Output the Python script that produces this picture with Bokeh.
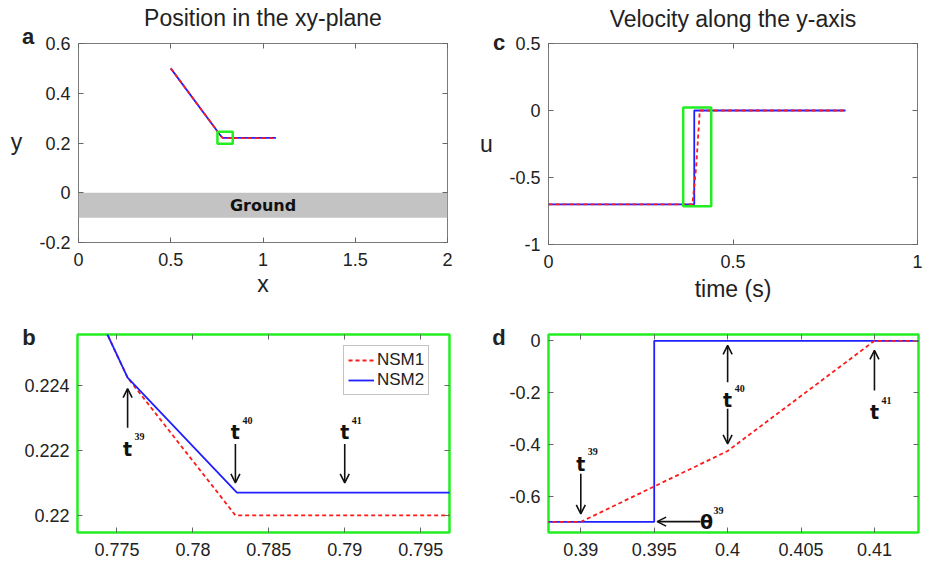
from bokeh.plotting import figure
from bokeh.layouts import column, row
from bokeh.models import (Range1d, FixedTicker, CustomJSTickFormatter, LinearAxis, Label,
                          Arrow, OpenHead, BoxAnnotation, Legend, LegendItem)
from bokeh.embed import file_html
from bokeh.resources import INLINE

# ---------------- data ----------------
pos_x_nsm1 = [0.5, 0.7757, 0.7828, 1.07]
pos_y_nsm1 = [0.5, 0.22424, 0.2200, 0.2200]
pos_x_nsm2 = [0.5, 0.7757, 0.7829, 1.07]
pos_y_nsm2 = [0.5, 0.22424, 0.2207, 0.2207]

time_nsm1 = [0.0, 0.39, 0.395, 0.40, 0.41, 0.805]
vel_nsm1 = [-0.70, -0.70, -0.563, -0.426, 0.0, 0.0]
time_nsm2 = [0.0, 0.395, 0.395, 0.805]
vel_nsm2 = [-0.70, -0.70, 0.0, 0.0]

ground_top = [0.0]
ground_bottom = [-0.1]
ground_left = [0.0]
ground_right = [2.0]

a_xticks = [0, 0.5, 1, 1.5, 2]
a_yticks = [-0.2, 0, 0.2, 0.4, 0.6]
b_xticks = [0.775, 0.78, 0.785, 0.79, 0.795]
b_yticks = [0.22, 0.222, 0.224]
c_xticks = [0, 0.5, 1]
c_yticks = [-1, -0.5, 0, 0.5]
d_xticks = [0.39, 0.395, 0.4, 0.405, 0.41]
d_yticks = [-0.6, -0.4, -0.2, 0]

series_names = ["NSM1", "NSM2"]

# ---------------- style ----------------
FONT = "Liberation Sans"
TXT = "#222222"
RED = "#ff1a1a"
BLUE = "#2020ff"
GREEN = "#22ee22"
LW = 1.8


def make_fig(fw, fh, bl, br, bt, bb, xr, yr, xticks, yticks, outline_color, outline_width):
    p = figure(frame_width=fw, frame_height=fh,
               min_border_left=bl, min_border_right=br, min_border_top=bt, min_border_bottom=bb,
               x_range=Range1d(*xr), y_range=Range1d(*yr),
               output_backend="svg", toolbar_location=None)
    p.grid.visible = False
    p.outline_line_color = outline_color
    p.outline_line_width = outline_width
    p.outline_line_alpha = 1
    p.background_fill_color = "white"
    p.border_fill_color = "white"
    fmt = CustomJSTickFormatter(code="return String(parseFloat(tick.toFixed(6)));")
    xax, yax = p.xaxis[0], p.yaxis[0]
    for ax, ticks, so in ((xax, xticks, 10), (yax, yticks, 8)):
        ax.ticker = FixedTicker(ticks=ticks)
        ax.formatter = fmt
        ax.major_tick_in = 5
        ax.major_tick_out = 0
        ax.minor_tick_line_color = None
        ax.axis_line_color = None
        ax.major_tick_line_color = "#666666"
        ax.major_label_text_font = FONT
        ax.major_label_text_font_size = "18px"
        ax.major_label_text_color = TXT
        ax.major_label_standoff = so
    for loc, ticks in (("right", yticks), ("above", xticks)):
        ax = LinearAxis(ticker=FixedTicker(ticks=ticks),
                        formatter=CustomJSTickFormatter(code="return '';"),
                        major_label_text_font_size="0px", major_label_standoff=0,
                        major_tick_in=5, major_tick_out=0, minor_tick_line_color=None,
                        axis_line_color=None, major_tick_line_color="#666666")
        p.add_layout(ax, loc)
    return p, xax, yax


def clabel(p, side, text, x, y, size, style="normal", align="center", baseline="alphabetic"):
    # label positioned in canvas pixels of its figure, kept in a side panel (not clipped)
    p.add_layout(Label(x=x, y=y, x_units="canvas", y_units="canvas", text=text,
                       text_font=FONT, text_font_size=size, text_font_style=style,
                       text_color=TXT, text_align=align, text_baseline=baseline), side)


def set_xlabel(ax, text, standoff):
    ax.axis_label = text
    ax.axis_label_text_font = FONT
    ax.axis_label_text_font_size = "23px"
    ax.axis_label_text_font_style = "normal"
    ax.axis_label_text_color = TXT
    ax.axis_label_standoff = standoff


def tlabel(p, x, y, sym, sup, sup_dx=7, sup_dy=12, lift=5):
    p.add_layout(Label(x=x, y=y, y_offset=lift, text=sym, text_align="center",
                       text_baseline="alphabetic",
                       text_font="DejaVu Sans", text_font_style="bold", text_font_size="19px",
                       text_color="#111111"))
    p.add_layout(Label(x=x, y=y, x_offset=sup_dx, y_offset=sup_dy + lift, text=sup,
                       text_align="left",
                       text_baseline="alphabetic", text_font="Liberation Serif",
                       text_font_style="bold", text_font_size="10px", text_color="#111111"))


def arrow(p, x0, y0, x1, y1):
    p.add_layout(Arrow(end=OpenHead(size=9, line_width=1.6, line_color="#111111"),
                       x_start=x0, y_start=y0, x_end=x1, y_end=y1,
                       line_width=1.6, line_color="#111111"))


# ---------------- panel a ----------------
pa, pa_x, pa_y = make_fig(369, 199, 78, 23, 42, 64, (0, 2), (-0.2, 0.6), a_xticks, a_yticks, "#7a7a7a", 1)
pa.quad(left=ground_left, right=ground_right, top=ground_top, bottom=ground_bottom,
        fill_color="#c3c3c3", line_color=None)
pa.add_layout(Label(x=1.0, y=-0.05, text="Ground", text_align="center", text_baseline="middle",
                    text_font="DejaVu Sans", text_font_style="bold", text_font_size="16px",
                    text_color="#111111"))
pa.line(pos_x_nsm2, pos_y_nsm2, line_color=BLUE, line_width=LW)
pa.line(pos_x_nsm1, pos_y_nsm1, line_color=RED, line_width=LW, line_dash="4 3")
pa.add_layout(BoxAnnotation(left=0.753, right=0.836, bottom=0.197, top=0.245,
                            fill_alpha=0, line_color=GREEN, line_width=2.5, line_alpha=1))
set_xlabel(pa_x, "x", 2)
clabel(pa, "above", "Position in the xy-plane", 262.5, 17, "23px")
clabel(pa, "left", "a", 27.5, 36, "22px", "bold")
clabel(pa, "left", "y", 16, 141, "23px")

# ---------------- panel c ----------------
pc, pc_x, pc_y = make_fig(369, 201, 78, 12, 43, 61, (0, 1), (-1, 0.5), c_xticks, c_yticks, "#7a7a7a", 1)
pc.line(time_nsm2, vel_nsm2, line_color=BLUE, line_width=LW)
pc.line(time_nsm1, vel_nsm1, line_color=RED, line_width=LW, line_dash="4 3")
pc.add_layout(BoxAnnotation(left=0.365, right=0.441, bottom=-0.715, top=0.022,
                            fill_alpha=0, line_color=GREEN, line_width=2.5, line_alpha=1))
set_xlabel(pc_x, "time (s)", 5)
clabel(pc, "above", "Velocity along the y-axis", 262.5, 18, "23px")
clabel(pc, "left", "c", 28.5, 42, "22px", "bold")
clabel(pc, "left", "u", 16, 143, "23px")

# ---------------- panel b ----------------
pb, pb_x, pb_y = make_fig(372, 198, 77, 21, 29, 29, (0.7724, 0.7969), (0.21947, 0.22557), b_xticks, b_yticks, GREEN, 2.5)
rb1 = pb.line(pos_x_nsm1, pos_y_nsm1, line_color=RED, line_width=LW, line_dash="4 3")
rb2 = pb.line(pos_x_nsm2, pos_y_nsm2, line_color=BLUE, line_width=LW)
leg = Legend(items=[LegendItem(label=series_names[0], renderers=[rb1]),
                    LegendItem(label=series_names[1], renderers=[rb2])],
             location=(266, 137), orientation="vertical",
             label_text_font=FONT, label_text_font_size="17px", label_text_color=TXT,
             glyph_width=26, glyph_height=20, label_height=20, label_standoff=3,
             spacing=0, padding=4, margin=0,
             border_line_color="#888888", border_line_width=1.5,
             background_fill_color="white", background_fill_alpha=1)
pb.add_layout(leg, "center")
clabel(pb, "left", "b", 28.5, 32, "22px", "bold")
tlabel(pb, 0.7757, 0.2219, "t", "39")
arrow(pb, 0.7757, 0.2227, 0.7757, 0.2239)
tlabel(pb, 0.7828, 0.2224, "t", "40")
arrow(pb, 0.7828, 0.2222, 0.7828, 0.2210)
tlabel(pb, 0.7900, 0.2224, "t", "41")
arrow(pb, 0.7900, 0.2222, 0.7900, 0.2210)

# ---------------- panel d ----------------
pd, pd_x, pd_y = make_fig(370, 198, 78, 11, 29, 29, (0.3878, 0.4130), (-0.741, 0.0244), d_xticks, d_yticks, GREEN, 2.5)
pd.line(time_nsm2, vel_nsm2, line_color=BLUE, line_width=LW)
pd.line(time_nsm1, vel_nsm1, line_color=RED, line_width=LW, line_dash="4 3")
clabel(pd, "left", "d", 28.5, 32, "22px", "bold")
tlabel(pd, 0.39, -0.494, "t", "39")
arrow(pd, 0.39, -0.514, 0.39, -0.669)
tlabel(pd, 0.40, -0.25, "t", "40")
arrow(pd, 0.40, -0.160, 0.40, -0.018)
arrow(pd, 0.40, -0.263, 0.40, -0.398)
tlabel(pd, 0.41, -0.296, "t", "41")
arrow(pd, 0.41, -0.192, 0.41, -0.037)
arrow(pd, 0.39815, -0.699, 0.3952, -0.699)
tlabel(pd, 0.39856, -0.7205, "θ", "39")

layout = column(row(pa, pc), row(pb, pd))
open("out.html", "w").write(file_html(layout, INLINE))
